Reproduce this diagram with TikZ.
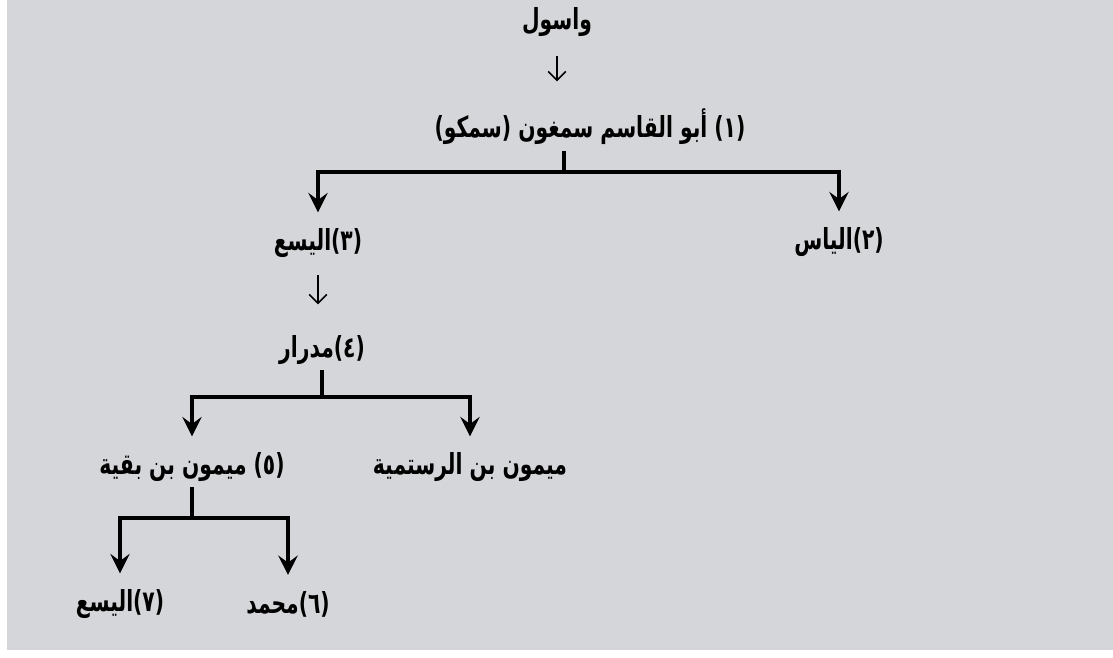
\documentclass[tikz,border=0pt]{standalone}
\usepackage{fontspec}
\newfontfamily\arabicfont[Script=Arabic]{DejaVu Sans}
\TeXXeTstate=1
\usetikzlibrary{arrows.meta}
\definecolor{paper}{RGB}{213,214,217}
\newcommand\aname[1]{\scalebox{0.70}[1]{\arabicfont\bfseries\fontsize{16.5}{18}\selectfont\beginR #1\endR}}
\begin{document}
\begin{tikzpicture}[x=0.02cm,y=-0.02cm,
    person/.style={inner sep=0pt},
    thinarrow/.style={-{Straight Barb[length=5pt,width=10pt]},line width=0.9pt},
    stem/.style={line width=1.9pt,shorten <=3pt},
    fork/.style={line width=1.9pt,-{Stealth[length=11pt,width=11pt,inset=4pt]},shorten >=9pt}]
        % Page: scanned paper with a white edge left and below
        \fill[white] (0,0) rectangle (1113,657);
        \fill[paper] (7,0) rectangle (1113,650);

        % Names
        \node[person] (n0) at (557,22) {\aname{واسول}};
        \node[person] (n1) at (590,127) {\aname{(١) أبو القاسم سمغون (سمكو)}};
        \node[person] (n2) at (839,242) {\aname{(٢)الياس}};
        \node[person] (n3) at (318,243) {\aname{(٣)اليسع}};
        \node[person] (n4) at (322,350) {\aname{(٤)مدرار}};
        \node[person] (n5) at (470,467) {\aname{ميمون بن الرستمية}};
        \node[person] (n6) at (192,467) {\aname{(٥) ميمون بن بقية}};
        \node[person] (n7) at (120,604) {\aname{(٧)اليسع}};
        \node[person] (n8) at (288,604) {\aname{(٦)محمد}};

        % Junctions of the forks
        \coordinate (j1) at (564,172);
        \coordinate (j2) at (322,397);
        \coordinate (j3) at (192,518);

        % Single descents
        \draw[thinarrow,shorten <=11pt,shorten >=26pt] (n0) -- (n0 |- n1);
        \draw[thinarrow,shorten <=10pt,shorten >=26pt] (n3) -- (n3 |- n4);

        % Forks
        \draw[stem] (n1.south -| j1) -- (j1);
        \draw[fork] (j1) -| (n3);
        \draw[fork] (j1) -| (n2);
        \draw[stem] (n4.south) -- (j2);
        \draw[fork] (j2) -| (n6);
        \draw[fork] (j2) -| (n5);
        \draw[stem] (n6.south) -- (j3);
        \draw[fork] (j3) -| (n7);
        \draw[fork] (j3) -| (n8);
\end{tikzpicture}
\end{document}
